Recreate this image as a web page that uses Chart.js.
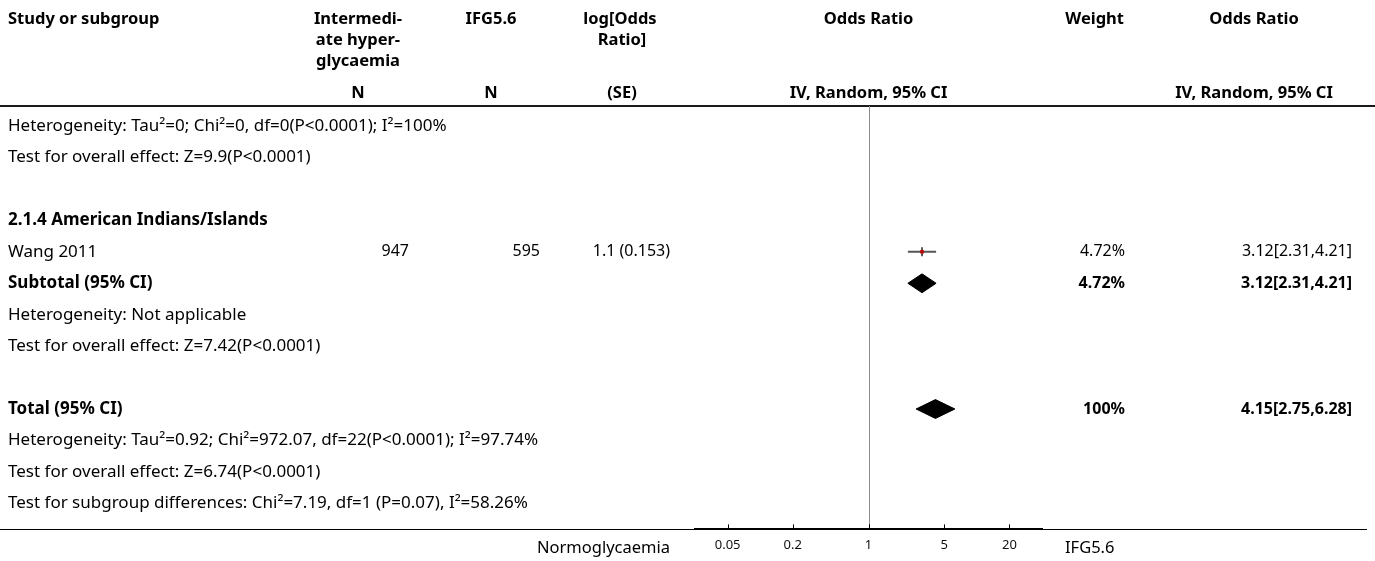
<!DOCTYPE html>
<html>
<head>
<meta charset="utf-8">
<script src="https://cdn.jsdelivr.net/npm/chart.js@4"></script>
<style>
  html, body { margin: 0; padding: 0; background: #fff; }
  #wrap { width: 1375px; height: 561px; }
</style>
</head>
<body>
<div id="wrap"><canvas id="myChart" width="1375" height="561"></canvas></div>
<script>
// rows of the left text column, top to bottom
const rowLabels = [
  'Heterogeneity: Tau²=0; Chi²=0, df=0(P<0.0001); I²=100%',
  'Test for overall effect: Z=9.9(P<0.0001)',
  '',
  '2.1.4 American Indians/Islands',
  'Wang 2011',
  'Subtotal (95% CI)',
  'Heterogeneity: Not applicable',
  'Test for overall effect: Z=7.42(P<0.0001)',
  '',
  'Total (95% CI)',
  'Heterogeneity: Tau²=0.92; Chi²=972.07, df=22(P<0.0001); I²=97.74%',
  'Test for overall effect: Z=6.74(P<0.0001)',
  'Test for subgroup differences: Chi²=7.19, df=1 (P=0.07), I²=58.26%'
];
const boldRows = [3, 5, 9];

// single study
const studyRows = [4];
const studyN1 = ['947'];
const studyN2 = ['595'];
const studyLogOR = ['1.1 (0.153)'];
const studyOR = [3.12];
const studyLo = [2.31];
const studyHi = [4.21];
const studyWeight = ['4.72%'];
const studyText = ['3.12[2.31,4.21]'];

// pooled diamonds
const poolRows = [5, 9];
const poolOR = [3.12, 4.15];
const poolLo = [2.31, 2.75];
const poolHi = [4.21, 6.28];
const poolWeight = ['4.72%', '100%'];
const poolText = ['3.12[2.31,4.21]', '4.15[2.75,6.28]'];

const xTicks = [0.05, 0.2, 1, 5, 20];
const leftLabel = 'Normoglycaemia';
const rightLabel = 'IFG5.6';

const FONT = '"Noto Sans", sans-serif';
const DIAMOND_H = 0.3;

const datasets = [];
studyRows.forEach((r, i) => {
  datasets.push({
    data: [{x: studyLo[i], y: r}, {x: studyHi[i], y: r}],
    borderColor: '#555', borderWidth: 2, pointRadius: 0, order: 3
  });
  datasets.push({
    data: [{x: studyOR[i], y: r}],
    showLine: false, pointStyle: 'line', rotation: 90, pointRadius: 4.5,
    borderColor: '#222', borderWidth: 1.5, order: 2
  });
  datasets.push({
    data: [{x: studyOR[i], y: r}],
    showLine: false, pointStyle: 'rect', pointRadius: 2.5,
    backgroundColor: '#c00000', borderWidth: 0, order: 1
  });
});
poolRows.forEach((r, i) => {
  datasets.push({
    data: [
      {x: poolLo[i], y: r}, {x: poolOR[i], y: r - DIAMOND_H},
      {x: poolHi[i], y: r}, {x: poolOR[i], y: r + DIAMOND_H},
      {x: poolLo[i], y: r}
    ],
    borderColor: '#000', borderWidth: 1, backgroundColor: '#000',
    fill: 'shape', pointRadius: 0, tension: 0, order: 1
  });
});

const forestText = {
  id: 'forestText',
  beforeDraw(chart) {
    const c = chart.ctx;
    const area = chart.chartArea;
    const xs = chart.scales.x;
    c.save();
    // full width rule at the bottom
    c.fillStyle = '#000';
    c.fillRect(0, Math.round(area.bottom), chart.width - 8, 1);
    // header rule
    c.fillStyle = '#1a1a1a';
    c.fillRect(0, 105, chart.width, 2);
    // line of no effect
    const x1 = Math.round(xs.getPixelForValue(1)) + 0.5;
    c.strokeStyle = '#8c8c8c';
    c.lineWidth = 1;
    c.beginPath();
    c.moveTo(x1, area.top);
    c.lineTo(x1, area.bottom);
    c.stroke();
    c.restore();
  },
  afterDraw(chart) {
    const c = chart.ctx;
    const area = chart.chartArea;
    const xs = chart.scales.x;
    const ys = chart.scales.y;
    c.save();
    c.textBaseline = 'middle';
    c.fillStyle = '#000';

    // header
    c.font = 'bold 16.5px ' + FONT;
    c.textAlign = 'left';
    c.fillText('Study or subgroup', 8, 19);
    c.textAlign = 'center';
    ['Intermedi-', 'ate hyper-', 'glycaemia'].forEach((t, k) => c.fillText(t, 358, 19 + k * 21));
    c.fillText('N', 358, 93);
    c.fillText('IFG5.6', 491, 19);
    c.fillText('N', 491, 93);
    c.fillText('log[Odds', 620, 19);
    c.fillText('Ratio]', 622, 40);
    c.fillText('(SE)', 622, 93);
    const mid = (area.left + area.right) / 2;
    c.fillText('Odds Ratio', mid, 19);
    c.fillText('IV, Random, 95% CI', mid, 93);
    c.textAlign = 'right';
    c.fillText('Weight', 1124, 19);
    c.textAlign = 'center';
    c.fillText('Odds Ratio', 1254, 19);
    c.fillText('IV, Random, 95% CI', 1254, 93);

    // left labels
    c.textAlign = 'left';
    rowLabels.forEach((t, i) => {
      if (!t) return;
      c.font = (boldRows.includes(i) ? 'bold ' : '') + '17px ' + FONT;
      c.fillText(t, 8, ys.getPixelForValue(i));
    });

    // study columns
    c.font = '16px ' + FONT;
    c.textAlign = 'right';
    studyRows.forEach((r, i) => {
      const y = ys.getPixelForValue(r);
      c.fillText(studyN1[i], 409, y);
      c.fillText(studyN2[i], 540, y);
      c.fillText(studyLogOR[i], 670, y);
      c.fillText(studyWeight[i], 1125, y);
      c.fillText(studyText[i], 1352, y);
    });
    c.font = 'bold 16px ' + FONT;
    poolRows.forEach((r, i) => {
      const y = ys.getPixelForValue(r);
      c.fillText(poolWeight[i], 1125, y);
      c.fillText(poolText[i], 1352, y);
    });

    // small upward tick marks on the axis
    c.strokeStyle = '#000';
    c.lineWidth = 1;
    xTicks.forEach(v => {
      const px = Math.round(xs.getPixelForValue(v)) + 0.5;
      c.beginPath();
      c.moveTo(px, area.bottom - 5);
      c.lineTo(px, area.bottom);
      c.stroke();
    });

    // axis side labels
    c.font = '16.5px ' + FONT;
    c.fillStyle = '#000';
    c.textAlign = 'right';
    c.fillText(leftLabel, 670, 548);
    c.textAlign = 'left';
    c.fillText(rightLabel, 1065, 548);
    c.restore();
  }
};

const ctx = document.getElementById('myChart').getContext('2d');
const myChart = new Chart(ctx, {
  type: 'line',
  data: { datasets: datasets },
  options: {
    responsive: false,
    animation: false,
    events: [],
    layout: { padding: { left: 695, right: 333, top: 106, bottom: 0 } },
    plugins: { legend: { display: false }, tooltip: { enabled: false } },
    scales: {
      x: {
        type: 'logarithmic',
        min: 0.025,
        max: 40,
        afterBuildTicks: scale => { scale.ticks = xTicks.map(v => ({ value: v })); },
        ticks: {
          autoSkip: false, maxRotation: 0, padding: 8,
          color: '#111', font: { family: FONT, size: 13 },
          callback: v => String(v)
        },
        grid: { drawOnChartArea: false, drawTicks: false },
        border: { color: '#000', width: 2 }
      },
      y: {
        type: 'linear',
        reverse: true,
        min: -0.64,
        max: 12.83,
        display: false
      }
    }
  },
  plugins: [forestText]
});
</script>
</body>
</html>
